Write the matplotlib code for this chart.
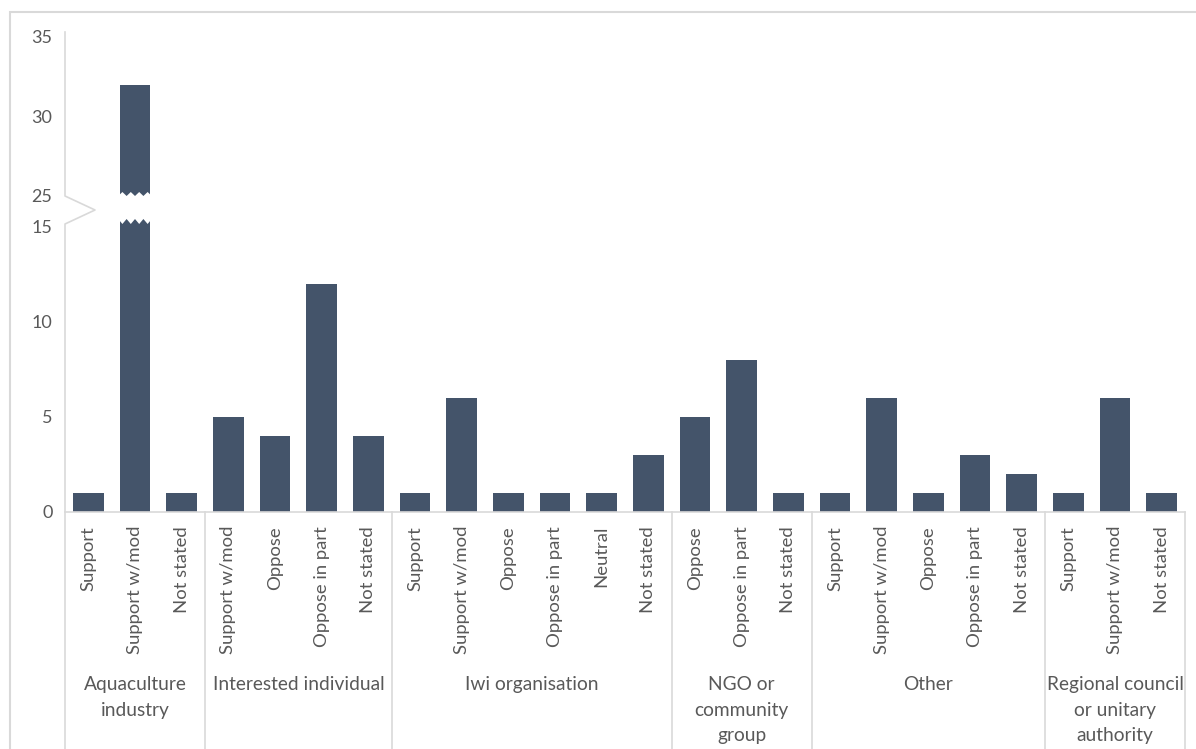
import matplotlib
matplotlib.use("Agg")
import matplotlib.pyplot as plt
import matplotlib.transforms as mtransforms
from matplotlib.patches import Polygon, Rectangle
from matplotlib.lines import Line2D

# --- data ---
groups = ["Aquaculture\nindustry", "Interested individual", "Iwi organisation",
          "NGO or\ncommunity\ngroup", "Other", "Regional council\nor unitary\nauthority"]
group_sizes = [3, 4, 6, 3, 5, 3]
categories = ["Support", "Support w/mod", "Not stated",
              "Support w/mod", "Oppose", "Oppose in part", "Not stated",
              "Support", "Support w/mod", "Oppose", "Oppose in part", "Neutral", "Not stated",
              "Oppose", "Oppose in part", "Not stated",
              "Support", "Support w/mod", "Oppose", "Oppose in part", "Not stated",
              "Support", "Support w/mod", "Not stated"]
counts = [1, 32, 1,
          5, 4, 12, 4,
          1, 6, 1, 1, 1, 3,
          5, 8, 1,
          1, 6, 1, 3, 2,
          1, 6, 1]
low_ticks = [0, 5, 10, 15]
high_ticks = [25, 30, 35]

BAR = "#44546A"
TXT = "#595959"
LINE = "#D9D9D9"

plt.rcParams["font.family"] = ["Lato", "DejaVu Sans"]

W, H = 1196, 749
fig = plt.figure(figsize=(W / 100, H / 100), dpi=100)

def fx(px):
    return px / W

def fy(px):
    return 1 - px / H

left, right = 65, 1185
ax_lo = fig.add_axes([fx(left), fy(512), fx(right - left), fy(219) - fy(512)])
ax_hi = fig.add_axes([fx(left), fy(196), fx(right - left), fy(32) - fy(196)])

x = list(range(len(counts)))
for ax in (ax_lo, ax_hi):
    ax.bar(x, counts, width=0.66, color=BAR)
    ax.set_xlim(-0.5, len(counts) - 0.5)
    for s in ax.spines.values():
        s.set_visible(False)
    ax.tick_params(axis="y", length=0, pad=9, labelsize=13, labelcolor=TXT)
    ax.tick_params(axis="x", length=0)

ax_lo.set_ylim(0, 15.4)
ax_lo.set_yticks(low_ticks)
ax_hi.set_ylim(25, 35.3)
ax_hi.set_yticks(high_ticks)
ax_hi.set_xticks([])

# bottom axis line
ax_lo.spines["bottom"].set_visible(True)
ax_lo.spines["bottom"].set_color(LINE)
ax_lo.spines["bottom"].set_linewidth(1.2)

ax_lo.set_xticks(x)
ax_lo.set_xticklabels(categories, rotation=90, fontsize=13.3, color=TXT)
ax_lo.tick_params(axis="x", pad=10)

# group labels and dividers
tr_lo = mtransforms.blended_transform_factory(ax_lo.transData, ax_lo.transAxes)
ah = 512 - 219
start = 0
bounds = [-0.5]
for g, n in zip(groups, group_sizes):
    mid = start + (n - 1) / 2
    ax_lo.text(mid, -(676 - 512) / ah, g, transform=tr_lo, ha="center", va="top",
               fontsize=13.8, color=TXT, linespacing=1.62)
    start += n
    bounds.append(start - 0.5)
for b in bounds[1:]:
    ax_lo.add_line(Line2D([b, b], [0, -(H - 512) / ah], transform=tr_lo,
                          color=LINE, lw=1.2, clip_on=False))

# y axis line with the "<" break mark (figure pixels)
py = [32, 196, 210, 224, H]
pxs = [left, left, left + 30, left, left]
fig.add_artist(Line2D([fx(p) for p in pxs], [fy(p) for p in py],
                      transform=fig.transFigure, color=LINE, lw=1.2))

# jagged ends on the broken bar
big = counts.index(max(counts))
hw = 0.33
teeth = 4
xs = [big - hw - 0.03 + i * (2 * hw + 0.06) / (2 * teeth) for i in range(2 * teeth + 1)]

tr_hi = mtransforms.blended_transform_factory(ax_hi.transData, ax_hi.transAxes)
hh = 196 - 32
# upper segment: white notches rising from the bottom
zig = [(xv, (4 if i % 2 else 0) / hh) for i, xv in enumerate(xs)]
poly = [(xs[0], -0.05)] + zig + [(xs[-1], -0.05)]
ax_hi.add_patch(Polygon(poly, closed=True, transform=tr_hi, facecolor="white",
                        edgecolor="none", clip_on=False, zorder=5))
# lower segment: white notches dropping from the top
zig = [(xv, 1 - (5 if i % 2 else 0) / ah) for i, xv in enumerate(xs)]
poly = [(xs[0], 1.05)] + zig + [(xs[-1], 1.05)]
ax_lo.add_patch(Polygon(poly, closed=True, transform=tr_lo, facecolor="white",
                        edgecolor="none", clip_on=False, zorder=5))

# outer chart frame
fig.add_artist(Rectangle((fx(10), fy(H + 5)), fx(W + 20), fy(12) - fy(H + 5),
                         transform=fig.transFigure, fill=False, edgecolor=LINE, lw=1.5))

fig.savefig("out.png", dpi=100)
